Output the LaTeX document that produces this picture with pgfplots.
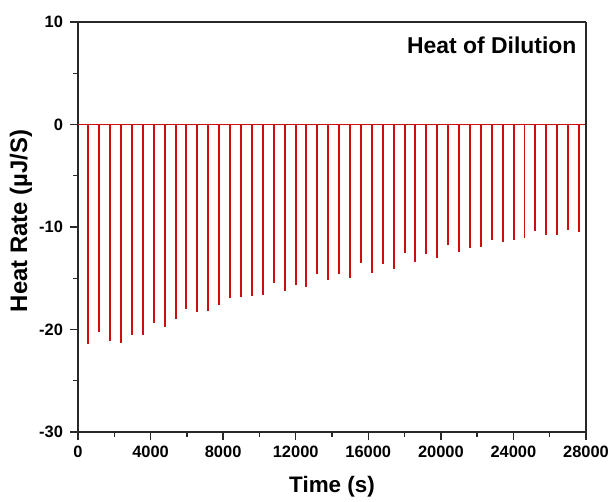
\documentclass[border=0pt]{standalone}
\usepackage{fontspec}
\setmainfont{Liberation Sans}
\usepackage{pgfplots}
\usepackage{pgfplotstable}
\pgfplotsset{compat=1.18}
\definecolor{itcred}{RGB}{204,14,14}
\definecolor{framegray}{RGB}{40,40,40}

% injection peaks: time (s) and peak heat rate (uJ/s)
\pgfplotstableread{
t      q
570    -21.4
1171   -20.2
1772   -21.1
2373   -21.3
2974   -20.5
3575   -20.5
4176   -19.4
4777   -19.8
5378   -19.0
5979   -18.0
6580   -18.3
7181   -18.2
7782   -17.6
8383   -16.9
8984   -16.8
9585   -16.75
10186  -16.65
10787  -15.5
11388  -16.2
11989  -15.65
12590  -15.9
13191  -14.6
13792  -15.2
14393  -14.6
14994  -15.0
15595  -13.55
16196  -14.45
16797  -13.65
17398  -14.05
17999  -12.5
18600  -13.4
19201  -12.65
19802  -13.05
20403  -11.8
21004  -12.45
21605  -12.05
22206  -12.0
22807  -11.25
23408  -11.45
24009  -11.3
24610  -11.05
25211  -10.4
25812  -10.75
26413  -10.75
27014  -10.3
27615  -10.5
}\peaks

\begin{document}
\begin{tikzpicture}
\useasboundingbox (-78bp,-70bp) rectangle (536bp,432bp);
\begin{axis}[
  at={(0,0)}, anchor=south west,
  scale only axis, width=508bp, height=410bp,
  xmin=0, xmax=28000, ymin=-30, ymax=10,
  xtick={0,4000,...,28000}, ytick={-30,-20,...,10},
  minor x tick num=1, minor y tick num=1,
  tick align=outside, xtick pos=bottom, ytick pos=left,
  major tick length=8bp, minor tick length=4.5bp,
  separate axis lines,
  axis line style={framegray, line width=1.6pt},
  every outer x axis line/.append style={framegray, line width=1.6pt},
  every outer y axis line/.append style={framegray, line width=1.6pt},
  every tick/.style={framegray, line width=1.4pt},
  scaled x ticks=false,
  /pgf/number format/assume math mode=true,
  /pgf/number format/set thousands separator={},
  ticklabel style={font=\fontsize{16.5}{18}\selectfont\bfseries},
  yticklabel style={xshift=-3.5bp},
  xticklabel style={yshift=-2bp},
  xlabel={Time (s)},
  ylabel={Heat Rate (µJ/S)},
  xlabel style={font=\fontsize{22.5}{24}\selectfont\bfseries,
    at={(axis description cs:0.5,-0.1342)}, anchor=center},
  ylabel style={font=\fontsize{24}{26}\selectfont\bfseries,
    at={(axis description cs:-0.1122,0.515)}, anchor=center},
  clip=false,
]
  \addplot[itcred, line width=1.3pt] coordinates {(0,0) (27950,0)};
  \addplot[itcred, line width=2pt, ycomb, no marks] table[x=t, y=q] {\peaks};
  \node[anchor=east, font=\fontsize{23}{25}\selectfont\bfseries]
    at (rel axis cs:0.988,0.942) {Heat of Dilution};
\end{axis}
\end{tikzpicture}
\end{document}
